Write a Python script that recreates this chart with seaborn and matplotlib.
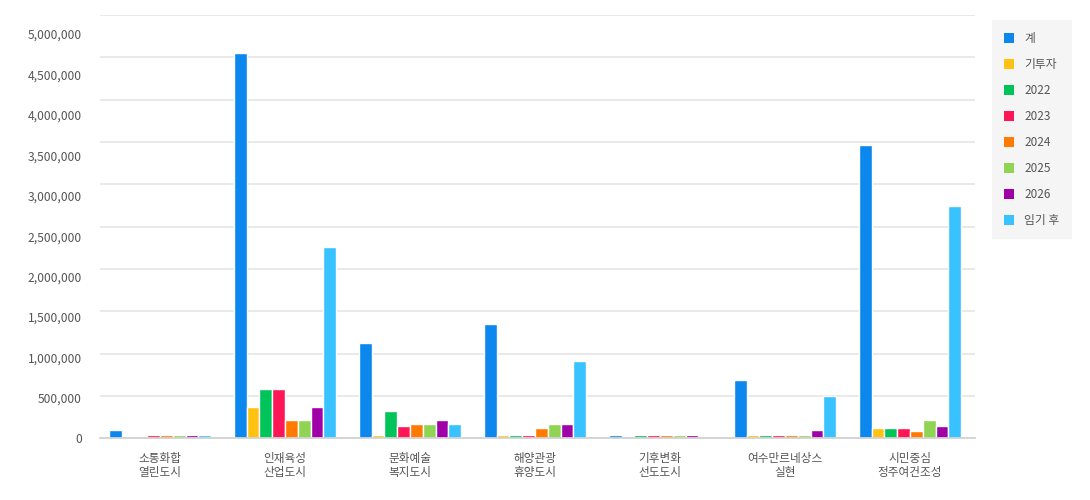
import numpy as np
import pandas as pd
import matplotlib
matplotlib.use("Agg")
import matplotlib.pyplot as plt
from matplotlib.ticker import FuncFormatter
import seaborn as sns

# 분야별 사업비 (원)
categories = [
    "소통화합\n열린도시",
    "인재육성\n산업도시",
    "문화예술\n복지도시",
    "해양관광\n휴양도시",
    "기후변화\n선도도시",
    "여수만르네상스\n실현",
    "시민중심\n정주여건조성",
]
series = ["계", "기투자", "2022", "2023", "2024", "2025", "2026", "임기 후"]

total = [95000, 4550000, 1122000, 1354000, 39000, 685000, 3464000]
invested = [0, 373000, 39000, 39000, 0, 39000, 118000]
y2022 = [0, 579000, 322000, 39000, 39000, 39000, 118000]
y2023 = [39000, 579000, 145000, 39000, 39000, 39000, 118000]
y2024 = [39000, 216000, 172000, 122000, 39000, 39000, 90000]
y2025 = [39000, 216000, 172000, 169000, 39000, 39000, 220000]
y2026 = [39000, 373000, 220000, 169000, 39000, 94000, 142000]
after_term = [39000, 2256000, 172000, 917000, 0, 503000, 2744000]

palette = ["#0b87ee", "#ffc212", "#00c35a", "#ff1656",
           "#ff7a00", "#8fd553", "#a000a8", "#38c2ff"]

values = [total, invested, y2022, y2023, y2024, y2025, y2026, after_term]
rows = []
for name, vals in zip(series, values):
    for cat, v in zip(categories, vals):
        rows.append({"분야": cat, "구분": name, "금액": v})
df = pd.DataFrame(rows)

sns.set_theme(style="white")
plt.rcParams["font.family"] = ["Noto Sans CJK KR", "DejaVu Sans"]

fig, ax = plt.subplots(figsize=(10.9, 5.0), dpi=100)
fig.subplots_adjust(left=100 / 1090, right=975 / 1090,
                    bottom=1 - 438.3 / 500, top=1 - 15 / 500)

sns.barplot(data=df, x="분야", y="금액", hue="구분",
            order=categories, hue_order=series, palette=palette,
            saturation=1, width=0.82, edgecolor="white", linewidth=1.0,
            errorbar=None, ax=ax)

ax.set_xlim(-0.48, len(categories) - 0.48)
ax.set_ylim(0, 5_000_000)
ax.set_yticks(np.arange(0, 5_000_001, 500_000))
ax.grid(axis="y", color="#e3e3e3", linewidth=1.1)
ax.set_axisbelow(True)
ax.set_xlabel("")
ax.set_ylabel("")

# 값 축 눈금 라벨
ax2 = ax.twinx()
ax2.set_ylim(0, 5_000_000 * 423.3 / 404.3)
ax2.set_yticks(np.arange(0, 5_000_001, 500_000))
ax2.yaxis.set_major_formatter(FuncFormatter(lambda v, p: f"{int(v):,}"))
ax2.yaxis.tick_left()
ax2.tick_params(axis="y", length=0, pad=13, labelsize=8.7, labelcolor="#555555")
for sp in ax2.spines.values():
    sp.set_visible(False)

for side in ("top", "right", "left"):
    ax.spines[side].set_visible(False)
ax.spines["bottom"].set_color("#d2d2d2")
ax.spines["bottom"].set_linewidth(1.3)
ax.tick_params(axis="y", left=False, right=False, length=0,
               labelleft=False, labelright=False)
ax.tick_params(axis="x", length=0, pad=10, labelsize=8.4, labelcolor="#555555")
for t in ax.get_xticklabels():
    t.set_linespacing(1.12)

sns.move_legend(
    ax, "upper left",
    bbox_to_anchor=(992 / 1090, 1 - 20 / 500),
    bbox_transform=fig.transFigure,
    title=None, frameon=True, fancybox=False,
    facecolor="#f5f5f5", edgecolor="none", framealpha=1,
    fontsize=8.5, labelcolor="#555555",
    handlelength=0.9, handleheight=0.9, handletextpad=0.85,
    labelspacing=1.1, borderpad=1.0, borderaxespad=0,
)
for h in ax.get_legend().legend_handles:
    h.set_linewidth(0)

fig.savefig("out.png", dpi=100)
